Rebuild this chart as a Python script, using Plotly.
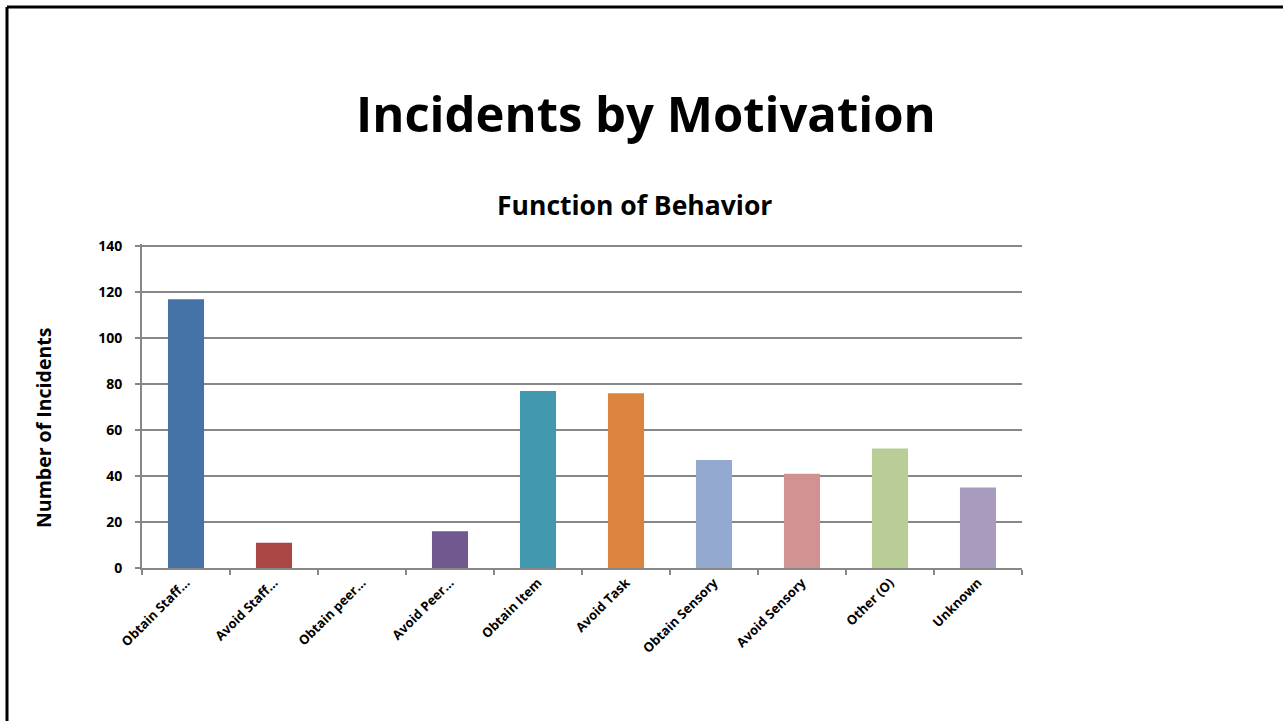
import plotly.graph_objects as go

# Incident counts per behaviour function
categories = ["Obtain Staff…", "Avoid Staff…", "Obtain peer…", "Avoid Peer…", "Obtain Item",
              "Avoid Task", "Obtain Sensory", "Avoid Sensory", "Other (O)", "Unknown"]
incidents = [117, 11, 0, 16, 77, 76, 47, 41, 52, 35]
bar_colors = ["#4572A7", "#AA4643", "#89A54E", "#71588F", "#4198AF",
              "#DB843D", "#93A9CF", "#D19392", "#B9CD96", "#A99BBD"]
y_ticks = [0, 20, 40, 60, 80, 100, 120, 140]

W, H = 1283, 721
L, R, T, B = 142, 261, 244, 153
FONT = "Open Sans, sans-serif"
GRID = "#878787"

fig = go.Figure(go.Bar(
    x=categories, y=incidents,
    marker=dict(color=bar_colors, line=dict(width=0)),
    width=0.41,
))

pw, ph = W - L - R, H - T - B
def px_x(p):
    return (p - L) / pw
def px_y(p):
    return (H - B - p) / ph

fig.update_layout(
    width=W, height=H,
    margin=dict(l=L, r=R, t=T, b=B),
    paper_bgcolor="white", plot_bgcolor="white",
    showlegend=False,
    font=dict(family=FONT, color="black"),
    xaxis=dict(
        tickangle=-45, tickfont=dict(size=13, family=FONT, weight="bold"),
        showline=True, linecolor=GRID, linewidth=2,
        ticks="outside", ticklen=5, tickwidth=2, tickcolor=GRID,
        tickson="boundaries", showgrid=False,
    ),
    yaxis=dict(
        range=[0, 141], tickvals=y_ticks,
        tickfont=dict(size=14, family=FONT, weight="bold"),
        showline=True, linecolor=GRID, linewidth=2,
        ticks="outside", ticklen=5, tickwidth=2, tickcolor=GRID,
        ticklabelstandoff=10,
        showgrid=True, gridcolor=GRID, gridwidth=2, zeroline=False,
    ),
    annotations=[
        dict(text="<b>Incidents by Motivation</b>", xref="paper", yref="paper",
             x=px_x(646), y=px_y(113), xanchor="center", yanchor="middle",
             showarrow=False, font=dict(size=49, family=FONT)),
        dict(text="<b>Function of Behavior</b>", xref="paper", yref="paper",
             x=px_x(634), y=px_y(205), xanchor="center", yanchor="middle",
             showarrow=False, font=dict(size=26.5, family=FONT)),
        dict(text="<b>Number of Incidents</b>", xref="paper", yref="paper",
             x=px_x(43), y=px_y(428), xanchor="center", yanchor="middle",
             textangle=-90, showarrow=False, font=dict(size=19.5, family=FONT)),
    ],
    shapes=[
        dict(type="line", xref="paper", yref="paper", x0=px_x(7), x1=px_x(W + 5),
             y0=px_y(7), y1=px_y(7), line=dict(color="black", width=3)),
        dict(type="line", xref="paper", yref="paper", x0=px_x(7), x1=px_x(7),
             y0=px_y(7), y1=px_y(H + 5), line=dict(color="black", width=3)),
    ],
)

fig.write_html("out.html")
